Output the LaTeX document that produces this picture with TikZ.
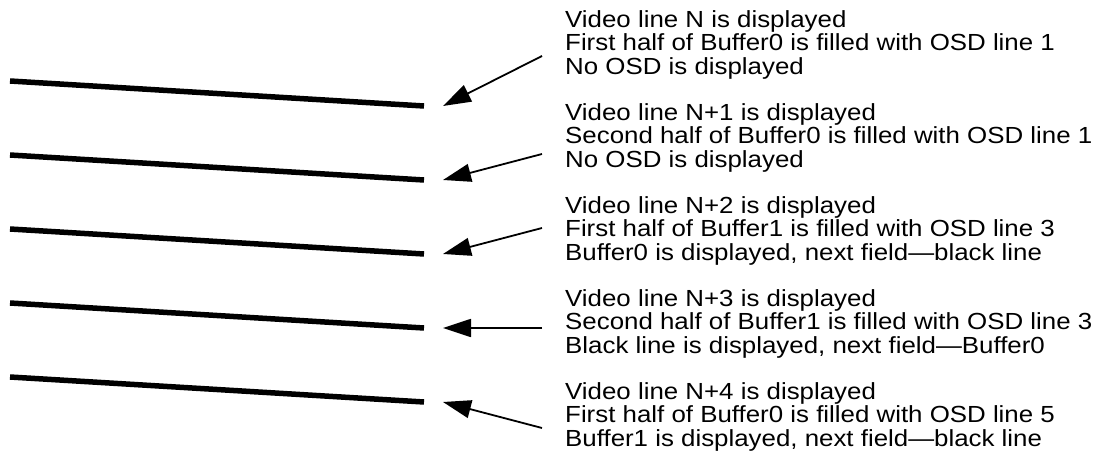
\documentclass[tikz,border=0pt]{standalone}
\usepackage{fontspec}
\setmainfont{Liberation Sans}[FakeStretch=1.11]
\usetikzlibrary{arrows.meta}
\tikzset{
  x=1pt, y=-1pt,
  scanline/.style={line width=5.5pt, line cap=butt},
  pointer/.style={line width=1.8pt, -{Triangle[length=28pt,width=18pt]}},
  note/.style={anchor=north west, inner sep=0pt, align=left,
               font=\fontsize{23.3}{23.4}\selectfont}
}
\begin{document}
\begin{tikzpicture}
\useasboundingbox (0,0) rectangle (1109,457);
% text blocks
\node[note] (t1) at (565,10.5) {Video line N is displayed\\First half of Buffer0 is filled with OSD line 1\\No OSD is displayed};
\node[note] (t2) at (565,103.5) {Video line N+1 is displayed\\Second half of Buffer0 is filled with OSD line 1\\No OSD is displayed};
\node[note] (t3) at (565,196.5) {Video line N+2 is displayed\\First half of Buffer1 is filled with OSD line 3\\Buffer0 is displayed, next field—black line};
\node[note] (t4) at (565,289.5) {Video line N+3 is displayed\\Second half of Buffer1 is filled with OSD line 3\\Black line is displayed, next field—Buffer0};
\node[note] (t5) at (565,382.5) {Video line N+4 is displayed\\First half of Buffer0 is filled with OSD line 5\\Buffer1 is displayed, next field—black line};
% scan lines
\coordinate (l1a) at (10,81);  \coordinate (l1b) at (424,106);
\coordinate (l2a) at (10,155); \coordinate (l2b) at (424,180);
\coordinate (l3a) at (10,229); \coordinate (l3b) at (424,254);
\coordinate (l4a) at (10,303); \coordinate (l4b) at (424,328);
\coordinate (l5a) at (10,377); \coordinate (l5b) at (424,402);
\foreach \i in {1,...,5} \draw[scanline] (l\i a) -- (l\i b);
% arrow ends
\coordinate (p1) at (443,106); \coordinate (s1) at (542,56);
\coordinate (p2) at (443,180); \coordinate (s2) at (542,154);
\coordinate (p3) at (443,254); \coordinate (s3) at (542,228);
\coordinate (p4) at (443,328); \coordinate (s4) at (542,328);
\coordinate (p5) at (443,402); \coordinate (s5) at (542,428);
\foreach \i in {1,...,5} \draw[pointer] (s\i) -- (p\i);
\end{tikzpicture}
\end{document}
